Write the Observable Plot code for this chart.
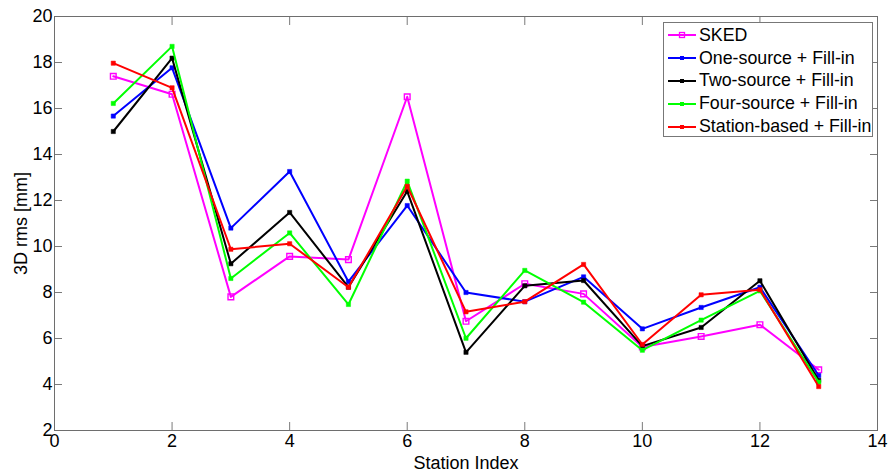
<!DOCTYPE html>
<html><head><meta charset="utf-8">
<script src="https://cdn.jsdelivr.net/npm/d3@7"></script>
<script src="https://cdn.jsdelivr.net/npm/@observablehq/plot@0.6"></script>
<style>
body{margin:0;background:#fff;}
#wrap{position:relative;width:889px;height:471px;font-family:Arial,"Liberation Sans",sans-serif;}
#legend{position:absolute;left:663px;top:22px;width:210px;height:115px;border:1px solid #777;background:#fff;box-sizing:border-box;padding-top:1px}
.item{display:flex;align-items:center;height:22.8px;font-size:17.8px;color:#000;white-space:nowrap}
.item svg{margin:0 3px 0 4px;flex:none}
</style></head><body><div id="wrap"></div>
<script>
const stations = [1,2,3,4,5,6,7,8,9,10,11,12,13];
const seriesNames = ["SKED","One-source + Fill-in","Two-source + Fill-in","Four-source + Fill-in","Station-based + Fill-in"];
const seriesColors = ["#ff00ff","#0000ff","#000000","#00ff00","#ff0000"];
const sked    = [17.40,16.62,7.81,9.57,9.43,16.51,6.75,8.38,7.94,5.63,6.09,6.60,4.64];
const oneSrc  = [15.67,17.77,10.80,13.26,8.47,11.78,8.00,7.60,8.68,6.42,7.35,8.23,4.39];
const twoSrc  = [15.00,18.19,9.25,11.48,8.23,12.40,5.40,8.29,8.52,5.67,6.48,8.51,4.18];
const fourSrc = [16.22,18.70,8.61,10.59,7.48,12.84,6.01,8.96,7.58,5.49,6.80,8.07,4.10];
const stnBased= [17.97,16.90,9.88,10.12,8.23,12.62,7.16,7.60,9.22,5.74,7.90,8.12,3.91];
const xTicks = [0,2,4,6,8,10,12,14];
const yTicks = [2,4,6,8,10,12,14,16,18,20];

const allSeries = [sked, oneSrc, twoSrc, fourSrc, stnBased];
const rows = [];
allSeries.forEach((vals, si) => vals.forEach((v, i) => rows.push({station: stations[i], value: v, series: seriesNames[si]})));

const seriesMarks = seriesNames.flatMap((name, si) => {
  const d = rows.filter(r => r.series === name);
  const c = seriesColors[si];
  const hollow = si === 0;
  return [
    Plot.line(d, {x: "station", y: "value", stroke: c, strokeWidth: 2}),
    Plot.dot(d, {x: "station", y: "value", symbol: "square", r: hollow ? 3.2 : 2.4,
      fill: hollow ? "none" : c, stroke: c, strokeWidth: hollow ? 1.4 : 0.5})
  ];
});

const axisStroke = "#7a7a7a";
const plot = Plot.plot({
  width: 889, height: 471,
  marginLeft: 54, marginRight: 12, marginTop: 16, marginBottom: 41,
  style: {fontFamily: "Arial, 'Liberation Sans', sans-serif", fontSize: "18px", color: "#000", background: "#fff"},
  x: {domain: [0, 14]},
  y: {domain: [2, 20]},
  marks: [
    Plot.axisX(xTicks, {anchor: "bottom", tickSize: -8, tickPadding: 12, stroke: axisStroke, label: "Station Index", labelAnchor: "center", labelOffset: 38, labelArrow: "none"}),
    Plot.axisX(xTicks, {anchor: "top", tickSize: -8, tickFormat: () => "", label: null, stroke: axisStroke}),
    Plot.axisY(yTicks, {anchor: "left", tickSize: -8, tickPadding: 10, stroke: axisStroke, label: "3D rms [mm]", labelAnchor: "center", labelOffset: 40, labelArrow: "none"}),
    Plot.axisY(yTicks, {anchor: "right", tickSize: -8, tickFormat: () => "", label: null, stroke: axisStroke}),
    Plot.frame({stroke: "#6e6e6e"}),
    ...seriesMarks
  ]
});
const wrap = document.getElementById("wrap");
wrap.appendChild(plot);

const legend = document.createElement("div");
legend.id = "legend";
seriesNames.forEach((name, si) => {
  const c = seriesColors[si];
  const item = document.createElement("div");
  item.className = "item";
  const mk = si === 0
    ? `<rect x="11.5" y="3.5" width="5" height="5" fill="none" stroke="${c}" stroke-width="1.3"/>`
    : `<rect x="12" y="4" width="4" height="4" fill="${c}"/>`;
  item.innerHTML = `<svg width="28" height="12"><line x1="0" y1="6" x2="28" y2="6" stroke="${c}" stroke-width="2"/>${mk}</svg><span>${name}</span>`;
  legend.appendChild(item);
});
wrap.appendChild(legend);
</script></body></html>
